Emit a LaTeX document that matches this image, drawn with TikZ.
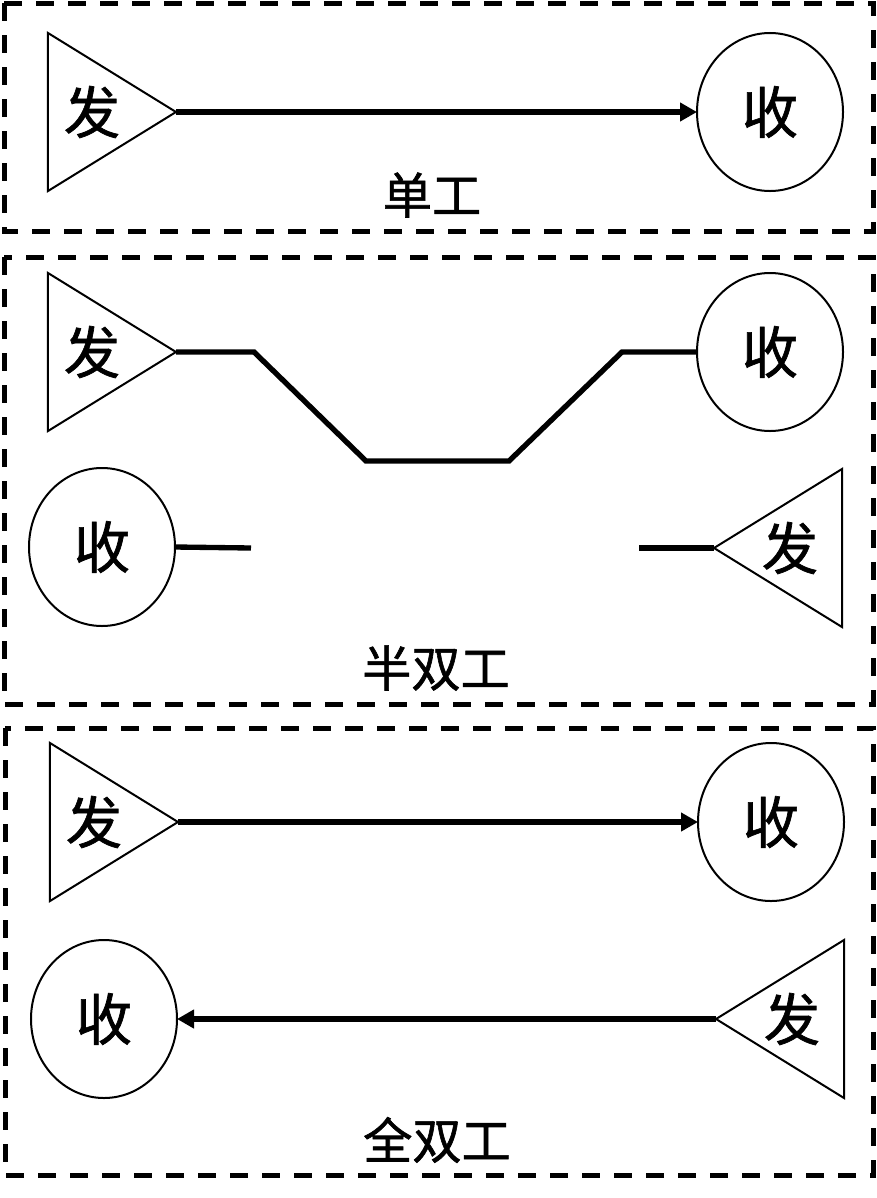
\documentclass[tikz,border=0pt]{standalone}
\usepackage{fontspec}
\newfontfamily\cjk[FakeBold=1.2]{Noto Sans CJK SC}
\usetikzlibrary{shapes.geometric,arrows.meta}

\tikzset{
  sender/.style={draw,isosceles triangle,isosceles triangle stretches,
    minimum width=4.74cm,minimum height=3.84cm,inner sep=0pt,outer sep=0pt,line width=0.06cm},
  receiver/.style={draw,ellipse,minimum width=4.38cm,minimum height=4.74cm,
    inner sep=0pt,outer sep=0pt,line width=0.06cm,font=\cjk\fontsize{48}{52}\selectfont},
  glyph/.style={font=\cjk\fontsize{48}{52}\selectfont,inner sep=0pt},
  caption/.style={font=\cjk\fontsize{42}{46}\selectfont,inner sep=0pt},
  frame/.style={line width=0.15cm,dash pattern=on 0.54cm off 0.42cm},
  wire/.style={line width=0.16cm},
  link/.style={wire,-{Triangle[length=0.51cm,width=0.54cm]}}
}

\begin{document}
\begin{tikzpicture}[x=0.03cm,y=-0.03cm]
  \useasboundingbox (0,0) rectangle (877,1198);

  % simplex
  \draw[frame] (4,3) rectangle (873,231);
  \node[sender,anchor=apex] (tx1) at (176,112) {};
  \node[glyph] (tx1t) at (92,112) {发};
  \node[receiver] (rx1) at (770,112) {收};
  \draw[link] (tx1.apex) -- (rx1.west);
  \node[caption] (cap1) at (432,195) {单工};

  % half duplex
  \draw[frame] (4,257) rectangle (873,704);
  \node[sender,anchor=apex] (tx2) at (176,352) {};
  \node[glyph] (tx2t) at (92,352) {发};
  \node[receiver] (rx2) at (770,352) {收};
  \coordinate (b1) at (254,352);
  \coordinate (b2) at (366,461);
  \coordinate (b3) at (509,461);
  \coordinate (b4) at (622,352);
  \draw[wire] (tx2.apex) -- (b1) -- (b2) -- (b3) -- (b4) -- (rx2.west);
  \node[receiver] (rx3) at (102,547) {收};
  \node[sender,shape border rotate=180,anchor=apex] (tx3) at (714,548) {};
  \node[glyph] (tx3t) at (790,548) {发};
  \coordinate (s1) at (251,548);
  \coordinate (s2) at (639,548);
  \draw[wire] (rx3.east) -- (s1);
  \draw[wire] (s2) -- (tx3.apex);
  \node[caption] (cap2) at (436,668) {半双工};

  % full duplex
  \draw[frame] (5,728) rectangle (873,1175);
  \node[sender,anchor=apex] (tx4) at (178,822) {};
  \node[glyph] (tx4t) at (94,822) {发};
  \node[receiver] (rx4) at (771,822) {收};
  \draw[link] (tx4.apex) -- (rx4.west);
  \node[receiver] (rx5) at (104,1019) {收};
  \node[sender,shape border rotate=180,anchor=apex] (tx5) at (716,1019) {};
  \node[glyph] (tx5t) at (792,1019) {发};
  \draw[link] (tx5.apex) -- (rx5.east);
  \node[caption] (cap3) at (437,1140) {全双工};
\end{tikzpicture}
\end{document}
